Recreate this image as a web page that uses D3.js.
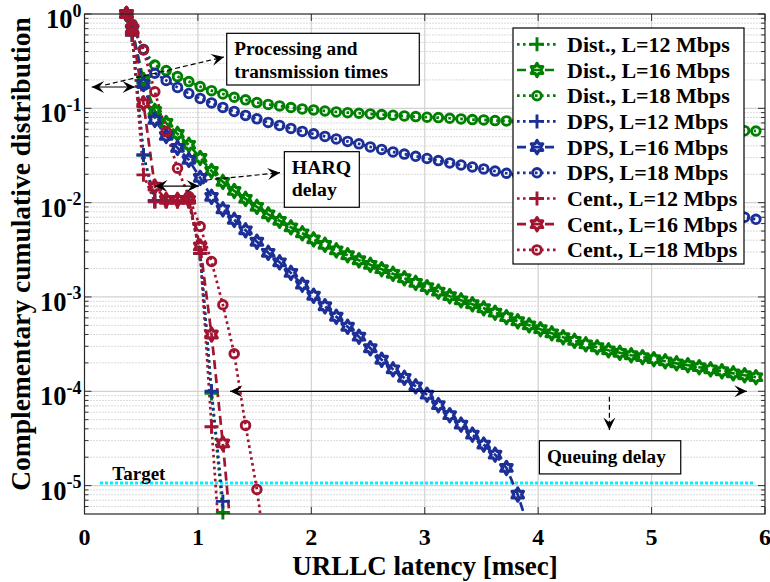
<!DOCTYPE html>
<html>
<head>
<meta charset="utf-8">
<script src="https://cdn.jsdelivr.net/npm/d3@7"></script>
<style>
  body { margin: 0; background: #fff; }
  svg text { font-family: "Liberation Serif", "Times New Roman", serif; font-weight: bold; fill: #000; }
</style>
</head>
<body>
<div id="chart"></div>
<script>
// latency grid (msec) shared by every curve
const latency = [0.37, 0.42, 0.52, 0.62, 0.72, 0.82, 0.92, 1.02, 1.12, 1.22, 1.32, 1.42, 1.52, 1.62,
  1.72, 1.82, 1.92, 2.02, 2.12, 2.22, 2.32, 2.42, 2.52, 2.62, 2.72, 2.82, 2.92, 3.02, 3.12, 3.22,
  3.32, 3.42, 3.52, 3.62, 3.72, 3.82, 3.92, 4.02, 4.12, 4.22, 4.32, 4.42, 4.52, 4.62, 4.72, 4.82,
  4.92, 5.02, 5.12, 5.22, 5.32, 5.42, 5.52, 5.62, 5.72, 5.82, 5.92];

// CCDF values (same index as latency)
const dist12 = [1, 0.6, 0.032, 0.0105, 0.0104, 0.0104, 0.0104, 0.0029, 0.000095, 0.0000052];
const dist16 = [1, 0.68, 0.2, 0.0939, 0.07, 0.0536, 0.041, 0.0298, 0.0217, 0.0166, 0.0133, 0.01097,
  0.00903, 0.00752, 0.00642, 0.00548, 0.00473, 0.00408, 0.00357, 0.00312, 0.00277, 0.00245, 0.00219,
  0.00197, 0.00176, 0.00158, 0.00141, 0.00127, 0.00114, 0.00102, 0.000922, 0.000837, 0.000759,
  0.000681, 0.00061, 0.000553, 0.000501, 0.000455, 0.000412, 0.000374, 0.000343, 0.000315, 0.000293,
  0.000272, 0.000256, 0.000241, 0.00023, 0.000219, 0.000208, 0.000198, 0.000189, 0.00018, 0.000171,
  0.000163, 0.000155, 0.000148, 0.000141];
const dist18 = [1, 0.78, 0.42, 0.288, 0.251, 0.217, 0.192, 0.17, 0.154, 0.142, 0.131, 0.123, 0.115,
  0.11, 0.106, 0.102, 0.0985, 0.0962, 0.0938, 0.0916, 0.09, 0.0887, 0.0872, 0.0858, 0.0845, 0.0831,
  0.0817, 0.0805, 0.0797, 0.0785, 0.0772, 0.0759, 0.0754, 0.0741, 0.0736, 0.0728, 0.072, 0.0712,
  0.0704, 0.0696, 0.0688, 0.068, 0.0672, 0.0664, 0.0657, 0.065, 0.0643, 0.0636, 0.0629, 0.0622,
  0.0615, 0.0608, 0.0601, 0.0594, 0.0587, 0.058, 0.0575];
const dps12 = [1, 0.6, 0.032, 0.0105, 0.0104, 0.0104, 0.0104, 0.0029, 0.0001, 0.0000068];
const dps16 = [1, 0.68, 0.181, 0.0754, 0.051, 0.0381, 0.0284, 0.0183, 0.01152, 0.00849, 0.00657,
  0.00509, 0.00385, 0.00294, 0.00233, 0.0018, 0.00135, 0.00103, 0.000797, 0.000617, 0.000483,
  0.000379, 0.000286, 0.000216, 0.000171, 0.000139, 0.000113, 0.000092, 0.0000713, 0.0000558,
  0.0000443, 0.0000347, 0.0000272, 0.0000213, 0.0000154, 0.00000803, 0.0000034];
const dps18 = [1, 0.76, 0.42, 0.2354, 0.1975, 0.1665, 0.1438, 0.1273, 0.1141, 0.1022, 0.0927,
  0.0841, 0.0773, 0.0709, 0.0659, 0.0612, 0.0569, 0.0536, 0.0504, 0.0474, 0.0446, 0.042, 0.039,
  0.0367, 0.0345, 0.0327, 0.031, 0.0294, 0.0279, 0.0264, 0.0251, 0.0239, 0.0228, 0.0216, 0.0205,
  0.0195, 0.0185, 0.0176, 0.0167, 0.0159, 0.0151, 0.0143, 0.0136, 0.013, 0.0123, 0.0117, 0.0111,
  0.0106, 0.01, 0.00952, 0.00905, 0.0086, 0.00817, 0.00776, 0.00738, 0.00701, 0.00666];
const cent12 = [1, 0.6, 0.0197, 0.0102, 0.0102, 0.0102, 0.0102, 0.0029, 0.000042, 0.0000008];
const cent16 = [1, 0.7, 0.113, 0.0148, 0.0107, 0.0107, 0.0107, 0.00343, 0.0004, 0.000028, 0.0000014];
const cent18 = [1, 0.76, 0.415, 0.15, 0.0567, 0.0232, 0.0116, 0.00558, 0.00238, 0.000827, 0.00025,
  0.0000435, 0.0000091, 0.0000012];

const seriesNames = ["Dist., L=12 Mbps", "Dist., L=16 Mbps", "Dist., L=18 Mbps",
  "DPS, L=12 Mbps", "DPS, L=16 Mbps", "DPS, L=18 Mbps",
  "Cent., L=12 Mbps", "Cent., L=16 Mbps", "Cent., L=18 Mbps"];
const seriesValues = [dist12, dist16, dist18, dps12, dps16, dps18, cent12, cent16, cent18];

const xTicks = [0, 1, 2, 3, 4, 5, 6];
const yTickExp = [0, -1, -2, -3, -4, -5];
const targetLevel = 1.066e-5;

// ---- styles ----
const green = "#008000", blue = "#1b2f97", red = "#a2142f";
const colorOf = [green, green, green, blue, blue, blue, red, red, red];
const markerOf = ["plus", "hex", "circle", "plus", "hex", "circle", "plus", "hex", "circle"];
const dotted = "2.6,3.4", dashed = "9,5";
const dashOf = [dotted, dashed, dotted, dotted, dashed, dotted, dotted, dashed, dotted];

const width = 770, height = 582;
const plot = {left: 84.5, right: 765, top: 14, bottom: 514};

const svg = d3.select("#chart").append("svg").attr("width", width).attr("height", height);

const x = d3.scaleLinear().domain([0, 6]).range([plot.left, plot.right]);
const y = d3.scaleLog().domain([5e-6, 1]).range([plot.bottom, plot.top]);

svg.append("defs").append("clipPath").attr("id", "clip").append("rect")
  .attr("x", plot.left).attr("y", plot.top)
  .attr("width", plot.right - plot.left).attr("height", plot.bottom - plot.top);

// grid
const minorVals = [];
for (let k = -6; k < 0; k++) for (let m = 2; m <= 9; m++) {
  const v = m * Math.pow(10, k);
  if (v > 5.01e-6 && v < 1) minorVals.push(v);
}
const majorVals = yTickExp.map(e => Math.pow(10, e));
const grid = svg.append("g");
grid.selectAll(".ymin").data(minorVals).join("line")
  .attr("x1", plot.left).attr("x2", plot.right).attr("y1", d => y(d)).attr("y2", d => y(d))
  .attr("stroke", "#b5b5b5").attr("stroke-width", 1).attr("stroke-dasharray", "1,2");
grid.selectAll(".ymaj").data(majorVals.slice(1)).join("line")
  .attr("x1", plot.left).attr("x2", plot.right).attr("y1", d => y(d)).attr("y2", d => y(d))
  .attr("stroke", "#d2d2d2").attr("stroke-width", 1.2);
grid.selectAll(".xmaj").data(xTicks.slice(1, -1)).join("line")
  .attr("y1", plot.top).attr("y2", plot.bottom).attr("x1", d => x(d)).attr("x2", d => x(d))
  .attr("stroke", "#d2d2d2").attr("stroke-width", 1.2);

// target line
const gTarget = svg.append("g");
gTarget.append("line")
  .attr("x1", x(0.137)).attr("x2", x(5.895)).attr("y1", y(targetLevel)).attr("y2", y(targetLevel))
  .attr("stroke", "#00f0ff").attr("stroke-width", 3).attr("stroke-dasharray", "3,2");
gTarget.append("text").attr("x", x(0.245)).attr("y", y(targetLevel) - 2.5)
  .style("font-size", "19px").text("Target");

// markers
function hexPath(R) {
  const r = R / Math.sqrt(3), pts = [];
  for (let i = 0; i < 12; i++) {
    const a = -Math.PI / 2 + i * Math.PI / 6, rr = i % 2 ? r : R;
    pts.push([rr * Math.cos(a), rr * Math.sin(a)]);
  }
  return "M" + pts.map(p => p[0].toFixed(2) + "," + p[1].toFixed(2)).join("L") + "Z";
}
function drawMarker(g, type, cx, cy, color) {
  if (type === "circle") {
    g.append("circle").attr("cx", cx).attr("cy", cy).attr("r", 4.3)
      .attr("fill", "none").attr("stroke", color).attr("stroke-width", 2.9);
  } else if (type === "plus") {
    g.append("path").attr("d", `M${cx - 7},${cy}H${cx + 7}M${cx},${cy - 7}V${cy + 7}`)
      .attr("stroke", color).attr("stroke-width", 2.9).attr("fill", "none");
  } else {
    g.append("path").attr("d", hexPath(6.6)).attr("transform", `translate(${cx},${cy})`)
      .attr("fill", "none").attr("stroke", color).attr("stroke-width", 3.2).attr("stroke-linejoin", "round");
  }
}

const line = d3.line().x((d, i) => x(latency[i])).y(d => y(d));
const curves = svg.append("g").attr("clip-path", "url(#clip)");
const marks = svg.append("g");
seriesValues.forEach((vals, s) => {
  curves.append("path").datum(vals).attr("d", line)
    .attr("fill", "none").attr("stroke", colorOf[s]).attr("stroke-width", 2.7)
    .attr("stroke-dasharray", dashOf[s]);
  vals.forEach((v, i) => {
    if (v >= 4.9e-6) drawMarker(marks, markerOf[s], x(latency[i]), y(v), colorOf[s]);
  });
});

// axes box and ticks
const axes = svg.append("g");
const tickLines = (vals, len, side) => {
  vals.forEach(v => {
    if (side === "y") {
      const yy = y(v);
      axes.append("line").attr("x1", plot.left).attr("x2", plot.left + len).attr("y1", yy).attr("y2", yy).attr("stroke", "#333");
      axes.append("line").attr("x1", plot.right).attr("x2", plot.right - len).attr("y1", yy).attr("y2", yy).attr("stroke", "#333");
    } else {
      const xx = x(v);
      axes.append("line").attr("y1", plot.bottom).attr("y2", plot.bottom - len).attr("x1", xx).attr("x2", xx).attr("stroke", "#333");
      axes.append("line").attr("y1", plot.top).attr("y2", plot.top + len).attr("x1", xx).attr("x2", xx).attr("stroke", "#333");
    }
  });
};
tickLines(majorVals, 7, "y");
tickLines(minorVals, 4, "y");
tickLines(xTicks, 7, "x");
axes.append("rect").attr("x", plot.left).attr("y", plot.top)
  .attr("width", plot.right - plot.left).attr("height", plot.bottom - plot.top)
  .attr("fill", "none").attr("stroke", "#262626").attr("stroke-width", 1.2);

// tick labels
yTickExp.forEach(e => {
  const t = axes.append("text").attr("x", 81.5).attr("y", y(Math.pow(10, e)) + 14)
    .attr("text-anchor", "end").style("font-size", "26.5px");
  t.append("tspan").text("10");
  t.append("tspan").attr("dy", -11.5).style("font-size", "18px").text(String(e));
});
xTicks.forEach(v => {
  axes.append("text").attr("x", x(v)).attr("y", 545).attr("text-anchor", "middle")
    .style("font-size", "24px").text(v);
});
svg.append("text").attr("x", 425).attr("y", 575).attr("text-anchor", "middle")
  .style("font-size", "27px").text("URLLC latency [msec]");
svg.append("text").attr("transform", "translate(30,254) rotate(-90)").attr("text-anchor", "middle")
  .style("font-size", "27.5px").text("Complementary cumulative distribution");

// annotations
const ann = svg.append("g");
function head(x1, y1, x2, y2) {
  const a = Math.atan2(y2 - y1, x2 - x1), L = 12.5, w = 6, b = 7.5;
  const pts = [[0, 0], [-L, w], [-b, 0], [-L, -w]].map(([u, v]) =>
    [x2 + u * Math.cos(a) - v * Math.sin(a), y2 + u * Math.sin(a) + v * Math.cos(a)]);
  ann.append("path").attr("d", "M" + pts.join("L") + "Z").attr("fill", "#000");
}
function arrow(p1, p2, opts) {
  const [x1, y1] = [x(p1[0]), y(p1[1])], [x2, y2] = [x(p2[0]), y(p2[1])];
  ann.append("line").attr("x1", x1).attr("y1", y1).attr("x2", x2).attr("y2", y2)
    .attr("stroke", "#000").attr("stroke-width", 1.2)
    .attr("stroke-dasharray", opts.dash ? "5,3" : null);
  head(x1, y1, x2, y2);
  if (opts.both) head(x2, y2, x1, y1);
}
function textBox(p1, p2, lines, fs, dx) {
  const [x1, y1] = [x(p1[0]), y(p1[1])], [x2, y2] = [x(p2[0]), y(p2[1])];
  ann.append("rect").attr("x", x1).attr("y", y1).attr("width", x2 - x1).attr("height", y2 - y1)
    .attr("fill", "#fff").attr("stroke", "#000").attr("stroke-width", 1.2);
  lines.forEach(l => ann.append("text").attr("x", x1 + dx).attr("y", y1 + l[1])
    .style("font-size", fs + "px").text(l[0]));
}
arrow([0.0635, 0.1683], [0.445, 0.1683], {both: true});
arrow([0.181, 0.1767], [1.23, 0.35], {dash: true});
textBox([1.254, 0.624], [2.952, 0.1767], [["Processing and", 22], ["transmission times", 45]], 19.3, 7.5);
arrow([0.622, 0.015], [1.01, 0.015], {both: true});
arrow([1.078, 0.01738], [1.724, 0.02077], {dash: true});
textBox([1.762, 0.0347], [2.423, 0.00893], [["HARQ", 22], ["delay", 44]], 19.8, 7.5);
arrow([1.283, 0.0001], [5.84, 0.0001], {both: true});
arrow([4.628, 0.0000876], [4.628, 0.0000389], {dash: true});
textBox([4.011, 0.0000299], [5.257, 0.0000133], [["Queuing delay", 22.5]], 19.2, 7.5);

// legend
const lg = svg.append("g");
lg.append("rect").attr("x", 513).attr("y", 28).attr("width", 231).attr("height", 236)
  .attr("fill", "#fff").attr("stroke", "#000").attr("stroke-width", 1.2);
seriesNames.forEach((n, s) => {
  const yy = 44.3 + s * 25.7;
  lg.append("line").attr("x1", 517).attr("x2", 557).attr("y1", yy).attr("y2", yy)
    .attr("stroke", colorOf[s]).attr("stroke-width", 2.7).attr("stroke-dasharray", dashOf[s]);
  drawMarker(lg, markerOf[s], 537, yy, colorOf[s]);
  lg.append("text").attr("x", 567).attr("y", yy + 7.5).style("font-size", "22px").text(n);
});
</script>
</body>
</html>
